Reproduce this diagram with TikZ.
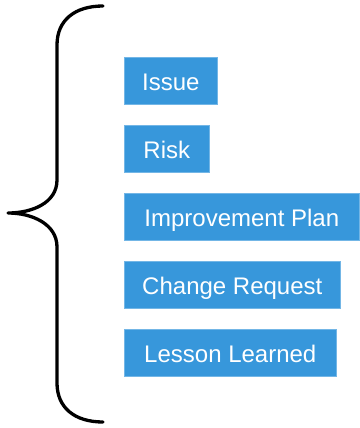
\documentclass[tikz,border=0pt]{standalone}
\usepackage{fontspec}
\setmainfont{Liberation Sans}
\definecolor{boxblue}{RGB}{55,151,219}
\begin{document}
\begin{tikzpicture}[x=1pt,y=-1pt,
  itembox/.style={fill=boxblue, draw=boxblue!70!white, line width=0.6pt, anchor=west, text=white,
    font=\fontsize{24pt}{26pt}\selectfont, minimum height=47pt, inner xsep=0pt,
    text height=20.8pt, text depth=0pt},
  bracestyle/.style={line width=3.3pt, line cap=round, line join=round, black}]
\useasboundingbox (0,0) rectangle (359,428);
\coordinate (btop) at (103,6);
\coordinate (btip) at (8,213);
\coordinate (bbot) at (103,422);
\draw[bracestyle] (btop) .. controls (75,6) and (57,20) .. (57,45) -- (57,180)
  .. controls (57,203) and (32,213) .. (btip)
  .. controls (32,213) and (57,224) .. (57,247) -- (57,383)
  .. controls (57,408) and (75,422) .. (bbot);
\node[itembox, minimum width=93pt] (issue) at (124,80.5) {Issue};
\node[itembox, minimum width=85pt] (risk) at (124,148.5) {Risk};
\node[itembox, minimum width=235pt] (plan) at (124,216.5) {Improvement Plan};
\node[itembox, minimum width=216pt] (change) at (124,284.5) {Change Request};
\node[itembox, minimum width=212pt] (lesson) at (124,352.5) {Lesson Learned};
\end{tikzpicture}
\end{document}
